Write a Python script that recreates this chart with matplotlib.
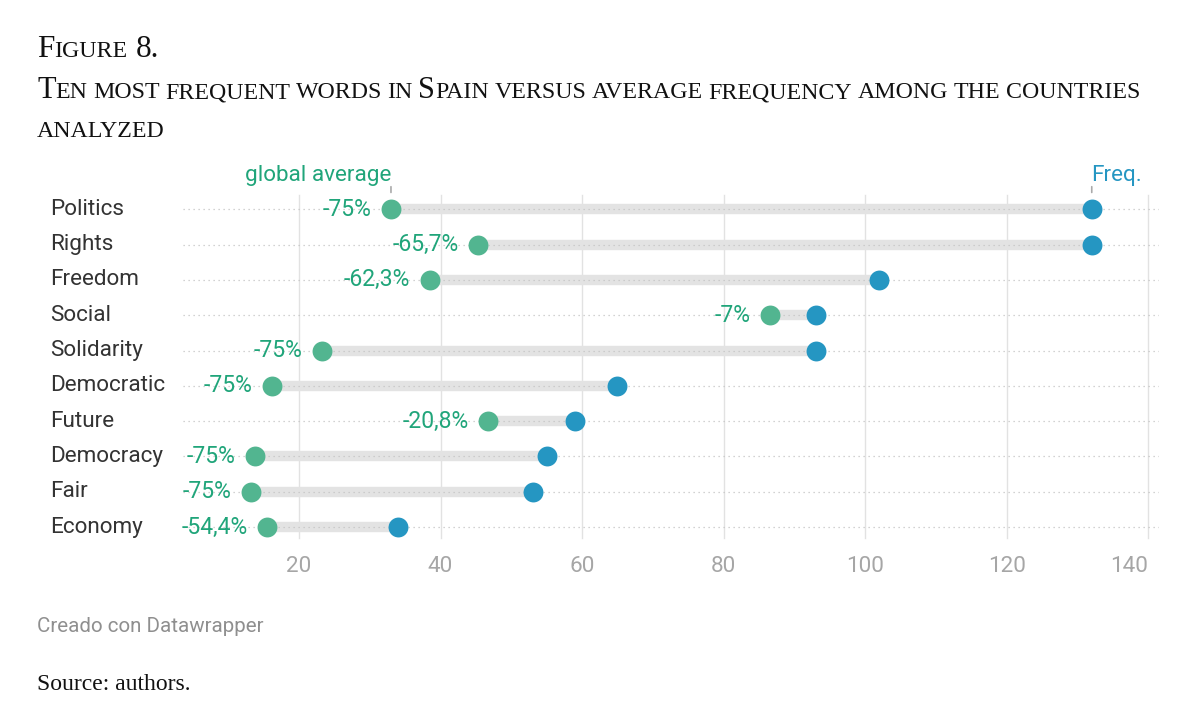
import matplotlib
matplotlib.use("Agg")
import matplotlib.pyplot as plt

categories = ["Politics", "Rights", "Freedom", "Social", "Solidarity",
              "Democratic", "Future", "Democracy", "Fair", "Economy"]
freq = [132, 132, 102, 93, 93, 65, 59, 55, 53, 34]
global_avg = [33.0, 45.3, 38.5, 86.5, 23.25, 16.25, 46.7, 13.75, 13.25, 15.5]
pct_labels = ["-75%", "-65,7%", "-62,3%", "-7%", "-75%",
              "-75%", "-20,8%", "-75%", "-75%", "-54,4%"]
xticks = [20, 40, 60, 80, 100, 120, 140]

W, H = 1196, 724
GREEN = "#52b590"
GREEN_TXT = "#20a57a"
BLUE = "#2596c2"
SANS = "Roboto"
SERIF = "Liberation Serif"
FS = 16.2

fig = plt.figure(figsize=(W / 100, H / 100), dpi=100)
fig.patch.set_facecolor("white")
ax = fig.add_axes([183 / W, 1 - 544.7 / H, 976 / W, 353 / H])
ax.set_xlim(3.62, 141.5)
ax.set_ylim(len(categories) - 0.5, -0.5)
for s in ax.spines.values():
    s.set_visible(False)
ax.set_yticks([])
ax.set_xticks(xticks)
ax.set_xticklabels([str(t) for t in xticks], fontsize=FS, color="#a6a6a6", family=SANS)
ax.get_xticklabels()[-1].set_ha("right")
ax.tick_params(axis="x", length=0, pad=8)
for t in xticks:
    ax.plot([t, t], [-0.42, 9.3], color="#e2e2e2", lw=1.0, zorder=0)

ypos = list(range(len(categories)))
for i in ypos:
    ax.plot([3.62, 141.5], [i, i], color="#c4c4c4", lw=0.9, ls=(0, (1, 3)), zorder=2)
    ax.plot([global_avg[i], freq[i]], [i, i], color="#e3e3e3", lw=7.5,
            solid_capstyle="butt", zorder=1)
ax.scatter(global_avg, ypos, s=205, color=GREEN, zorder=3, linewidths=0)
ax.scatter(freq, ypos, s=205, color=BLUE, zorder=3, linewidths=0)

for i in ypos:
    ax.annotate(pct_labels[i], (global_avg[i], i), xytext=(-14, 0),
                textcoords="offset points", ha="right", va="center",
                fontsize=FS + 0.4, color=GREEN_TXT, family=SANS)
    ax.text(-0.1364, i, categories[i], transform=ax.get_yaxis_transform(),
            ha="left", va="center", fontsize=FS, color="#333333", family=SANS)

# series annotations above first row
for xv in (global_avg[0], freq[0]):
    ax.annotate("", xy=(xv, -0.4), xytext=(xv, -0.72),
                arrowprops=dict(arrowstyle="-", color="#aaaaaa", lw=1.2),
                annotation_clip=False)
ax.text(global_avg[0], -0.8, "global average", ha="right", va="baseline",
        fontsize=FS, color=GREEN_TXT, family=SANS, clip_on=False)
ax.text(freq[0] - 0.1, -0.8, "Freq.", ha="left", va="baseline",
        fontsize=FS, color=BLUE, family=SANS, clip_on=False)

fig.text(37 / W, 1 - 632 / H, "Creado con Datawrapper", fontsize=14.8,
         color="#8f8f8f", family=SANS, va="baseline")
fig.text(37 / W, 1 - 690 / H, "Source: authors.", fontsize=17,
         color="#111111", family=SERIF, va="baseline")

# small caps title
renderer = fig.canvas.get_renderer()


def runs(word):
    out = []
    for ch in word:
        small = ch.islower()
        if out and out[-1][1] == small:
            out[-1][0] += ch
        else:
            out.append([ch, small])
    return out


def sc_line(x_px, y_px, text, big, small, target=None):
    probe1 = fig.text(0, 0, "I I", fontsize=big, family=SERIF)
    probe2 = fig.text(0, 0, "II", fontsize=big, family=SERIF)
    sp = probe1.get_window_extent(renderer).width - probe2.get_window_extent(renderer).width
    probe1.remove()
    probe2.remove()
    words = text.split(" ")
    pieces = []
    for word in words:
        wp = []
        for run, is_small in runs(word):
            t = fig.text(0, 1 - y_px / H, run.upper(),
                         fontsize=small if is_small else big,
                         family=SERIF, va="baseline", ha="left", color="#111111")
            wp.append((t, t.get_window_extent(renderer).width))
        pieces.append(wp)
    total = sum(w for wp in pieces for _, w in wp)
    if target is not None and len(words) > 1:
        sp = (target - total) / (len(words) - 1)
    x = x_px
    for k, wp in enumerate(pieces):
        if k > 0:
            x += sp
        for t, w in wp:
            t.set_x(x / W)
            x += w


sc_line(37, 57, "Figure 8.", 22.5, 17.2)
sc_line(37, 98, "Ten most frequent words in Spain versus average frequency among the countries",
        22, 17.2, target=1103)
sc_line(37, 137, "analyzed", 22, 17.2)

fig.savefig("out.png", dpi=100, facecolor="white")
